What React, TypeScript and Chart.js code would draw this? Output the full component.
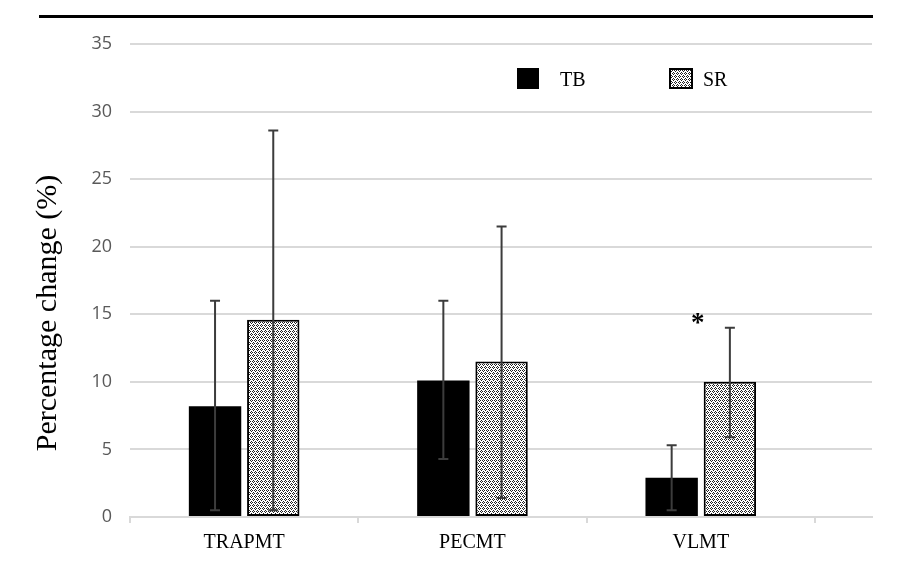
import { useEffect, useRef } from 'react';
import Chart from 'chart.js/auto';

const categories = ['TRAPMT', 'PECMT', 'VLMT'];
const seriesNames = ['TB', 'SR'];
const tbValues = [8.2, 10.1, 2.9];
const srValues = [14.6, 11.5, 10.0];
const tbLow = [0.5, 4.3, 0.5];
const tbHigh = [16.0, 16.0, 5.3];
const srLow = [0.5, 1.4, 5.9];
const srHigh = [28.6, 21.5, 14.0];
const yTicks = [0, 5, 10, 15, 20, 25, 30, 35];
const yTitle = 'Percentage change (%)';
// significance marker: category index and the value it sits at
const starCategory = 2;
const starValue = 14.7;

const SERIF = '"Liberation Serif", "Times New Roman", serif';
const SANS = '"Open Sans", "Noto Sans", sans-serif';

function makeStipple(): CanvasPattern | string {
  const tile = document.createElement('canvas');
  tile.width = 4;
  tile.height = 6;
  const c = tile.getContext('2d');
  if (!c) return '#b5b5b5';
  c.fillStyle = '#ffffff';
  c.fillRect(0, 0, 4, 6);
  c.fillStyle = '#1e1e1e';
  const dots = [[1, 0], [0, 1], [2, 1], [1, 2], [3, 3], [2, 4], [0, 4], [3, 5]];
  dots.forEach(([x, y]) => c.fillRect(x, y, 1, 1));
  return c.createPattern(tile, 'repeat') ?? '#b5b5b5';
}

export default function App() {
  const canvasRef = useRef<HTMLCanvasElement | null>(null);
  const chartRef = useRef<Chart | null>(null);

  useEffect(() => {
    if (!canvasRef.current) return;
    const stipple = makeStipple();

    const errorBars = {
      id: 'errorBars',
      afterDatasetsDraw(chart: any) {
        const { ctx, scales } = chart;
        const ranges = [[tbLow, tbHigh], [srLow, srHigh]];
        ctx.save();
        ctx.strokeStyle = '#3c3c3c';
        ctx.lineWidth = 2;
        ranges.forEach(([low, high], di) => {
          chart.getDatasetMeta(di).data.forEach((bar: any, i: number) => {
            const x = bar.x;
            const yl = scales.y.getPixelForValue(low[i]);
            const yh = scales.y.getPixelForValue(high[i]);
            ctx.beginPath();
            ctx.moveTo(x, yl);
            ctx.lineTo(x, yh);
            ctx.moveTo(x - 5, yh);
            ctx.lineTo(x + 5, yh);
            ctx.moveTo(x - 5, yl);
            ctx.lineTo(x + 5, yl);
            ctx.stroke();
          });
        });
        // asterisk over VLMT
        ctx.fillStyle = '#000';
        ctx.font = `bold 27px ${SERIF}`;
        ctx.textAlign = 'center';
        ctx.textBaseline = 'alphabetic';
        ctx.fillText('*', scales.x.getPixelForValue(starCategory) - 3, scales.y.getPixelForValue(starValue) + 13);
        ctx.restore();
      }
    };

    const legendBox = {
      id: 'legendBox',
      afterDraw(chart: any) {
        const { ctx } = chart;
        const items = [
          { swatchX: 517, w: 22, textX: 560, fill: '#000', border: 0 },
          { swatchX: 669, w: 24, textX: 703, fill: stipple, border: 2 }
        ];
        ctx.save();
        items.forEach((it, i) => {
          ctx.fillStyle = it.fill;
          ctx.fillRect(it.swatchX, 68, it.w, 21);
          if (it.border) {
            ctx.strokeStyle = '#000';
            ctx.lineWidth = it.border;
            ctx.strokeRect(it.swatchX + 1, 69, it.w - 2, 19);
          }
          ctx.fillStyle = '#000';
          ctx.font = `20px ${SERIF}`;
          ctx.textAlign = 'left';
          ctx.textBaseline = 'alphabetic';
          ctx.fillText(seriesNames[i], it.textX, 86);
        });
        // rotated y title, sitting a bit below the plot middle as in the source
        ctx.translate(48, 313);
        ctx.rotate(-Math.PI / 2);
        ctx.font = `30px ${SERIF}`;
        ctx.textAlign = 'center';
        ctx.textBaseline = 'middle';
        ctx.fillText(yTitle, 0, 0);
        ctx.restore();
      }
    };

    const config: any = {
      type: 'bar',
      data: {
        datasets: [
          {
            label: seriesNames[0],
            data: tbValues.map((v, i) => ({ x: i, y: v })),
            backgroundColor: '#000',
            borderWidth: 0,
            categoryPercentage: 0.51,
            barPercentage: 0.9
          },
          {
            label: seriesNames[1],
            data: srValues.map((v, i) => ({ x: i, y: v })),
            backgroundColor: stipple,
            borderColor: '#000',
            borderWidth: 2,
            borderSkipped: false,
            categoryPercentage: 0.51,
            barPercentage: 0.9
          }
        ]
      },
      options: {
        animation: false,
        responsive: true,
        maintainAspectRatio: false,
        layout: { padding: { left: 31, right: 31, top: 44, bottom: 0 } },
        plugins: {
          legend: { display: false },
          tooltip: { enabled: false }
        },
        scales: {
          x: {
            type: 'linear',
            min: -0.5,
            max: 2.75,
            offset: false,
            afterBuildTicks: (s: any) => {
              s.ticks = categories.map((_, i) => ({ value: i }));
            },
            afterFit: (s: any) => {
              s.height = 45;
            },
            grid: {
              offset: true,
              drawOnChartArea: false,
              drawTicks: true,
              tickLength: 6,
              color: '#d9d9d9',
              lineWidth: 2
            },
            border: { display: true, color: '#d9d9d9', width: 2 },
            ticks: {
              autoSkip: false,
              maxRotation: 0,
              padding: 8,
              color: '#000',
              font: { family: SERIF, size: 20 },
              callback: (v: number) => categories[v] ?? ''
            }
          },
          y: {
            min: yTicks[0],
            max: yTicks[yTicks.length - 1],
            afterFit: (s: any) => {
              s.width = 99;
            },
            ticks: {
              stepSize: yTicks[1] - yTicks[0],
              padding: 18,
              color: '#595959',
              font: { family: SANS, size: 18 }
            },
            grid: {
              drawTicks: false,
              color: '#d9d9d9',
              lineWidth: 2
            },
            border: { display: false }
          }
        }
      },
      plugins: [errorBars, legendBox]
    };

    if (chartRef.current) chartRef.current.destroy();
    chartRef.current = new Chart(canvasRef.current, config);

    return () => {
      if (chartRef.current) {
        chartRef.current.destroy();
        chartRef.current = null;
      }
    };
  }, []);

  return (
    <div style={{ position: 'fixed', left: 0, top: 0, width: 903, height: 562, background: '#fff' }}>
      <div style={{ position: 'absolute', left: 39, top: 15, width: 834, borderTop: '3px solid #000' }} />
      <canvas ref={canvasRef} />
    </div>
  );
}
